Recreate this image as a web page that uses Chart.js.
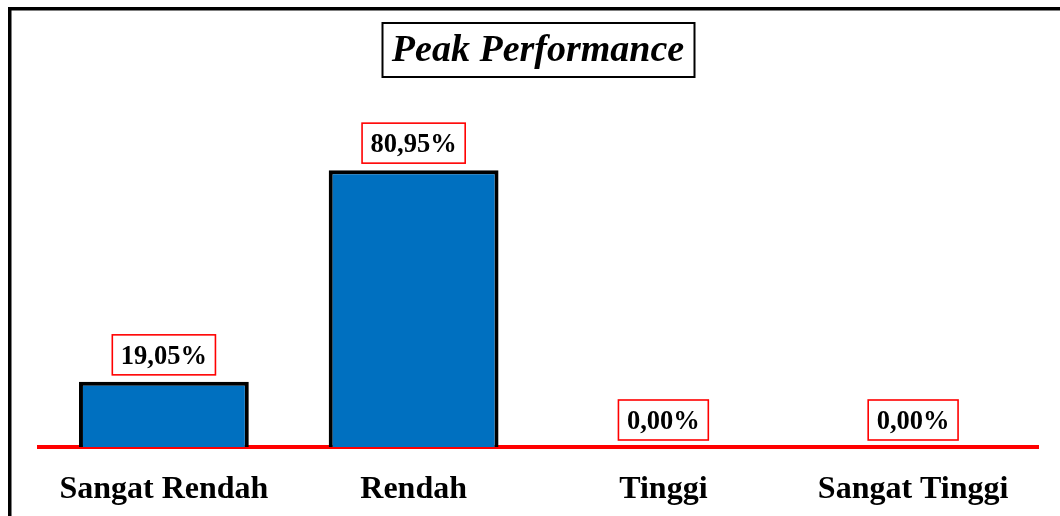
<!DOCTYPE html>
<html>
<head>
<meta charset="utf-8">
<script src="https://cdn.jsdelivr.net/npm/chart.js@4.4.0/dist/chart.umd.min.js"></script>
<style>
  html, body { margin: 0; padding: 0; background: #fff; }
  #wrap { position: relative; width: 1060px; height: 516px; }
</style>
</head>
<body>
<div id="wrap"><canvas id="c" width="1060" height="516"></canvas></div>
<script>
const chartTitle = "Peak Performance";
const categories = ["Sangat Rendah", "Rendah", "Tinggi", "Sangat Tinggi"];
const percentValues = [19.05, 80.95, 0.00, 0.00];
const yMin = 0;
const yMax = 100;

const SERIF = '"Liberation Serif", "Times New Roman", serif';

function fmtPct(v) { return v.toFixed(2).replace('.', ',') + '%'; }

const decorPlugin = {
  id: 'decor',
  afterDraw(chart) {
    const ctx = chart.ctx;
    ctx.save();
    // outer frame (right and bottom fall outside the picture)
    ctx.strokeStyle = '#000';
    ctx.lineWidth = 3.5;
    ctx.strokeRect(9.75, 8.75, 1200, 700);

    // title with box
    ctx.font = 'italic bold 38px ' + SERIF;
    ctx.fillStyle = '#000';
    ctx.textAlign = 'center';
    ctx.textBaseline = 'middle';
    const cx = 538;
    ctx.fillText(chartTitle, cx, 51);
    ctx.lineWidth = 2;
    ctx.strokeRect(382.5, 23, 312, 54);

    // data labels in red boxes
    const meta = chart.getDatasetMeta(0);
    ctx.font = 'bold 26.5px ' + SERIF;
    meta.data.forEach((bar, i) => {
      const txt = fmtPct(percentValues[i]);
      const w = ctx.measureText(txt).width + 17;
      const h = 40;
      const bottom = bar.y - 7;
      const top = bottom - h;
      ctx.fillStyle = '#fff';
      ctx.fillRect(bar.x - w / 2, top, w, h);
      ctx.strokeStyle = '#ff0000';
      ctx.lineWidth = 1.6;
      ctx.strokeRect(bar.x - w / 2, top, w, h);
      ctx.fillStyle = '#000';
      ctx.fillText(txt, bar.x, top + h / 2 + 2);
    });
    ctx.restore();
  }
};

new Chart(document.getElementById('c'), {
  type: 'bar',
  data: {
    labels: categories,
    datasets: [{
      data: percentValues,
      backgroundColor: '#0070C0',
      borderColor: '#000000',
      borderWidth: 4,
      borderSkipped: 'bottom',
      categoryPercentage: 1.0,
      barPercentage: 0.68
    }]
  },
  options: {
    responsive: false,
    animation: false,
    layout: { padding: { top: 105, left: 39, right: 22, bottom: 0 } },
    plugins: {
      legend: { display: false },
      title: { display: false },
      tooltip: { enabled: false }
    },
    scales: {
      x: {
        grid: { display: false, drawTicks: false },
        border: { display: true, color: '#ff0000', width: 4 },
        afterFit(scale) { scale.height = 69; },
        ticks: {
          color: '#000',
          padding: 24,
          font: { family: SERIF, size: 32, weight: 'bold' },
          maxRotation: 0
        }
      },
      y: {
        display: false,
        min: yMin,
        max: yMax
      }
    }
  },
  plugins: [decorPlugin]
});
</script>
</body>
</html>
